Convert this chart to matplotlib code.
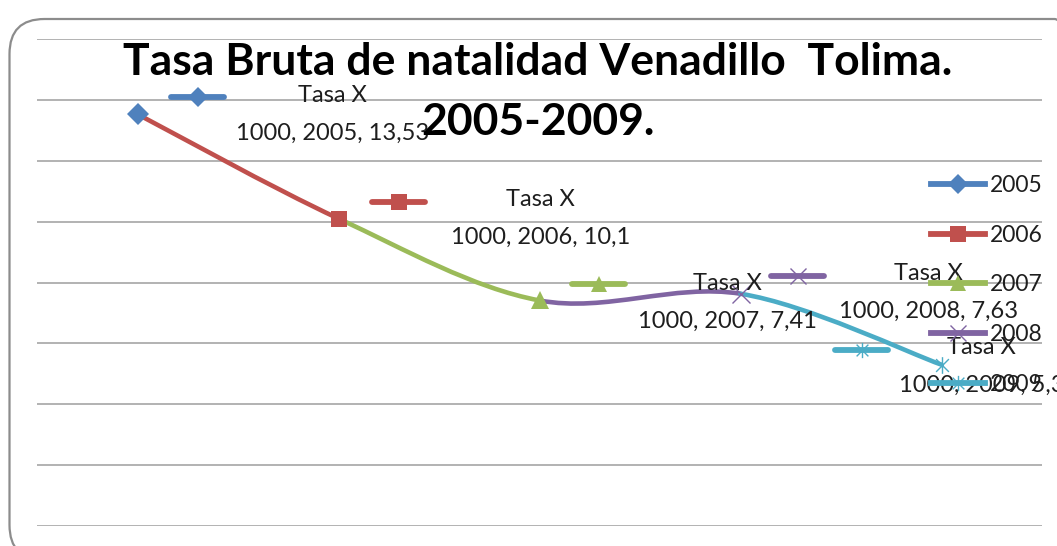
import numpy as np
import matplotlib
matplotlib.use("Agg")
import matplotlib.pyplot as plt
from matplotlib.path import Path
from matplotlib.patches import PathPatch, FancyBboxPatch
from matplotlib.lines import Line2D
from matplotlib.offsetbox import DrawingArea, AnnotationBbox

# -------------------------------------------
# Data
# -------------------------------------------
years = ["2005", "2006", "2007", "2008", "2009"]
tasa = [13.53, 10.1, 7.41, 7.63, 5.3]
tasa_txt = ["13,53", "10,1", "7,41", "7,63", "5,3"]

colors = ["#4F81BD", "#C0504D", "#9BBB59", "#8064A2", "#4BACC6"]

# star marker like excel (x plus vertical bar)
star = Path([(-1, -1), (1, 1), (-1, 1), (1, -1), (0, -1.3), (0, 1.3)],
            [Path.MOVETO, Path.LINETO, Path.MOVETO, Path.LINETO, Path.MOVETO, Path.LINETO])
markers = ["D", "s", "^", "x", star]
msize = [11, 12, 13, 13, 12]

# label layout (pixel offsets from each point)
key_off = [(60, 17), (60, 17), (59, 16), (57, 18), (-80, 15)]
txt_off = [(195, 0), (202, 0), (188, -2), (188, 1), (40, -2)]

plt.rcParams["font.family"] = ["Lato", "DejaVu Sans"]
FS = 16.5

fig = plt.figure(figsize=(10.57, 5.46), dpi=100)
W, H = 1057, 546
ax = fig.add_axes([37 / W, 1 - 526 / H, (1042 - 37) / W, (526 - 39) / H])

# rounded chart border
border = FancyBboxPatch((0.095, -0.14), 10.8, 5.41,
                        boxstyle="round,pad=0,rounding_size=0.35",
                        transform=fig.dpi_scale_trans, facecolor="none",
                        edgecolor="#8c8c8c", linewidth=1.6, zorder=0)
fig.patches.append(border)

x = np.arange(len(years))
ax.set_xlim(-0.5, len(years) - 0.5)
ax.set_ylim(0, 16)
ax.set_yticks(np.arange(0, 17, 2))
ax.grid(axis="y", color="#a6a6a6", linewidth=1.2)
ax.set_axisbelow(True)
ax.tick_params(left=False, bottom=False, labelleft=False, labelbottom=False)
for s in ax.spines.values():
    s.set_visible(False)

# smoothed line (bezier segments, excel style), coloured per point
pts = np.column_stack([x, tasa]).astype(float)
n = len(pts)
for i in range(n - 1):
    p0 = pts[max(i - 1, 0)]
    p1 = pts[i]
    p2 = pts[i + 1]
    p3 = pts[min(i + 2, n - 1)]
    c1 = p1 + (p2 - p0) / 6
    c2 = p2 - (p3 - p1) / 6
    seg = Path([p1, c1, c2, p2], [Path.MOVETO, Path.CURVE4, Path.CURVE4, Path.CURVE4])
    ax.add_patch(PathPatch(seg, facecolor="none", edgecolor=colors[i + 1],
                           linewidth=3.3, capstyle="round", zorder=2))

for i in range(n):
    ax.plot(x[i], tasa[i], linestyle="none", marker=markers[i], ms=msize[i],
            color=colors[i], mew=1 if i >= 3 else 0, zorder=3, clip_on=False)

# data labels with legend key
for i in range(n):
    da = DrawingArea(40, 12, 0, 0)
    da.add_artist(Line2D([1, 39], [6, 6], color=colors[i], linewidth=4.2,
                         solid_capstyle="round"))
    da.add_artist(Line2D([20], [6], marker=markers[i], ms=msize[i] - 1,
                         color=colors[i], mew=1 if i >= 3 else 0))
    ab = AnnotationBbox(da, (x[i], tasa[i]), xybox=key_off[i], boxcoords="offset pixels",
                        frameon=False, pad=0, annotation_clip=False, zorder=4)
    ax.add_artist(ab)
    ax.annotate("Tasa X\n1000, %s, %s" % (years[i], tasa_txt[i]), (x[i], tasa[i]),
                xytext=txt_off[i], textcoords="offset pixels", ha="center", va="center",
                multialignment="center", linespacing=2.0, fontsize=17,
                color="#1e1e1e", annotation_clip=False, zorder=4)

# legend
handles = [Line2D([], [], color=colors[i], marker=markers[i], ms=msize[i] - 1,
                  linewidth=4.2, mew=1 if i >= 3 else 0) for i in range(n)]
leg = fig.legend(handles, years, loc="upper left", bbox_to_anchor=(931 / W, 1 - 175 / H),
                 frameon=False, fontsize=FS, handlelength=2.36, handletextpad=0.22,
                 labelspacing=1.25, borderpad=0, borderaxespad=0)
for t in leg.get_texts():
    t.set_color("#1e1e1e")

# title
fig.text(538 / W, 1 - 62 / H, "Tasa Bruta de natalidad Venadillo  Tolima.",
         ha="center", va="center", fontsize=32, fontweight="bold")
fig.text(538 / W, 1 - 122 / H, "2005-2009.", ha="center", va="center",
         fontsize=32, fontweight="bold")

fig.savefig("out.png", dpi=100)
